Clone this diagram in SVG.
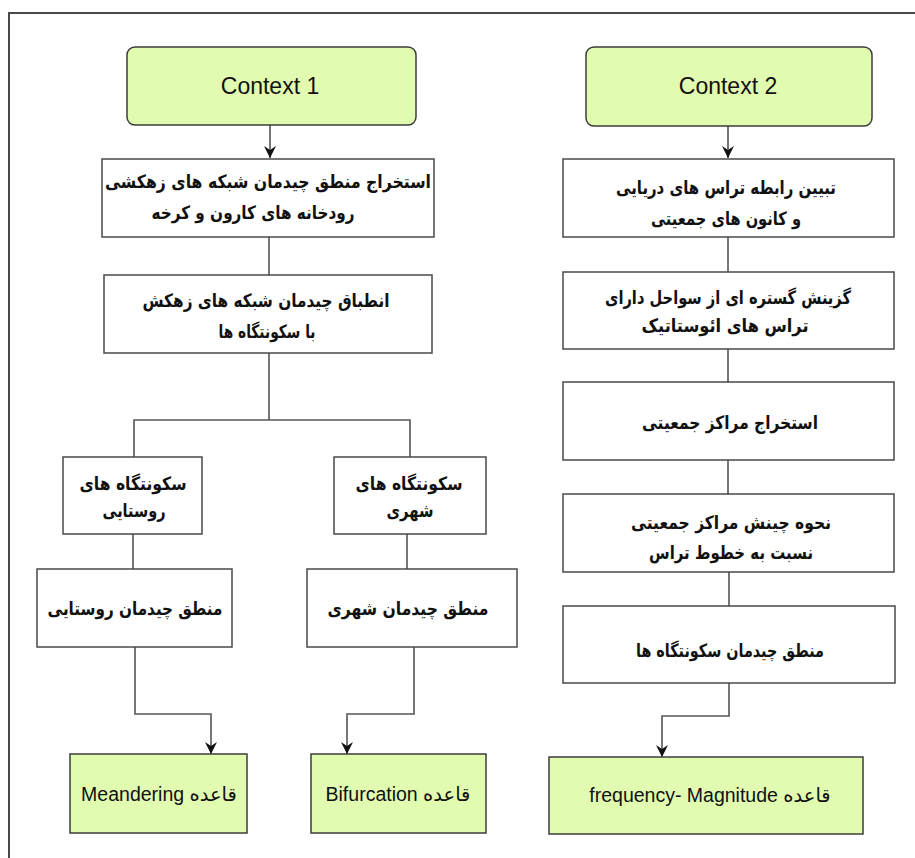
<svg xmlns="http://www.w3.org/2000/svg" width="915" height="858" viewBox="0 0 915 858">
<style>
.frame{fill:none;stroke:#4a4a4a;stroke-width:2}
.ctx{fill:#e1fbb0;stroke:#3c3c3c;stroke-width:1.5}
.box{fill:#ffffff;stroke:#4a4a4a;stroke-width:1.5}
.rule{fill:#e1fbb0;stroke:#3c3c3c;stroke-width:1.5}
.con{fill:none;stroke:#555;stroke-width:1.6}
.ct{font-family:"Liberation Sans",Arial,sans-serif;font-size:23px;fill:#111;text-anchor:middle;dominant-baseline:central}
.fa{font-family:"DejaVu Sans",sans-serif;font-size:18.5px;font-weight:bold;fill:#111;text-anchor:middle;dominant-baseline:central;direction:rtl;unicode-bidi:embed}
.rt{font-family:"Liberation Sans","DejaVu Sans",sans-serif;font-size:19.5px;fill:#111;text-anchor:middle;dominant-baseline:central;direction:rtl;unicode-bidi:embed}
</style>
<defs>
<marker id="arr" markerUnits="userSpaceOnUse" markerWidth="12" markerHeight="14" refX="12" refY="6" orient="auto" viewBox="0 0 12 12">
<path d="M0,0 L12,6 L0,12 L4,6 z" fill="#111"/>
</marker>
</defs>
<rect width="915" height="858" fill="#fff"/>
<rect class="frame" x="9" y="13" width="1000" height="1000"/>

<g id="connectors">
<line class="con" x1="270" y1="125" x2="270" y2="158" marker-end="url(#arr)"/>
<line class="con" x1="728" y1="126" x2="728" y2="158" marker-end="url(#arr)"/>
<line class="con" x1="269" y1="237" x2="269" y2="275"/>
<polyline class="con" points="269,353 269,420"/>
<polyline class="con" points="134,457 134,420 410,420 410,457"/>
<line class="con" x1="133" y1="534" x2="133" y2="569"/>
<line class="con" x1="407" y1="534" x2="407" y2="569"/>
<polyline class="con" points="135,647 135,714 211,714 211,754" marker-end="url(#arr)"/>
<polyline class="con" points="414,647 414,714 347,714 347,754" marker-end="url(#arr)"/>
<line class="con" x1="728" y1="237" x2="728" y2="272"/>
<line class="con" x1="728" y1="349" x2="728" y2="382"/>
<line class="con" x1="728" y1="460" x2="728" y2="494"/>
<line class="con" x1="729" y1="572" x2="729" y2="606"/>
<polyline class="con" points="729,683 729,716 662,716 662,757" marker-end="url(#arr)"/>
</g>

<g id="context1">
<rect class="ctx" x="127" y="47" width="289" height="78" rx="8"/>
<text class="ct" x="270" y="86">Context 1</text>
</g>
<g id="context2">
<rect class="ctx" x="586" y="47" width="286" height="79" rx="8"/>
<text class="ct" x="728" y="86">Context 2</text>
</g>

<g id="a1">
<rect class="box" x="102" y="159" width="332" height="78"/>
<text class="fa" x="268" y="181" textLength="326" lengthAdjust="spacingAndGlyphs">استخراج منطق چیدمان شبکه های زهکشی</text>
<text class="fa" x="253" y="212" textLength="203" lengthAdjust="spacingAndGlyphs">رودخانه های کارون و کرخه</text>
</g>
<g id="a2">
<rect class="box" x="104" y="275" width="328" height="78"/>
<text class="fa" x="266" y="300" textLength="247" lengthAdjust="spacingAndGlyphs">انطباق چیدمان شبکه های زهکش</text>
<text class="fa" x="267" y="331" textLength="97" lengthAdjust="spacingAndGlyphs">با سکونتگاه ها</text>
</g>
<g id="b1">
<rect class="box" x="63" y="457" width="139" height="77"/>
<text class="fa" x="133" y="483" textLength="107" lengthAdjust="spacingAndGlyphs">سکونتگاه های</text>
<text class="fa" x="134" y="510" textLength="63" lengthAdjust="spacingAndGlyphs">روستایی</text>
</g>
<g id="b2">
<rect class="box" x="334" y="457" width="152" height="77"/>
<text class="fa" x="409" y="483" textLength="107" lengthAdjust="spacingAndGlyphs">سکونتگاه های</text>
<text class="fa" x="410" y="510" textLength="47" lengthAdjust="spacingAndGlyphs">شهری</text>
</g>
<g id="c1">
<rect class="box" x="37" y="569" width="195" height="78"/>
<text class="fa" x="135" y="608" textLength="175" lengthAdjust="spacingAndGlyphs">منطق چیدمان روستایی</text>
</g>
<g id="c2">
<rect class="box" x="307" y="569" width="210" height="78"/>
<text class="fa" x="408" y="608" textLength="161" lengthAdjust="spacingAndGlyphs">منطق چیدمان شهری</text>
</g>
<g id="d1">
<rect class="rule" x="70" y="754" width="177" height="79"/>
<text class="rt" x="159" y="794">قاعده Meandering</text>
</g>
<g id="d2">
<rect class="rule" x="311" y="754" width="175" height="79"/>
<text class="rt" x="398" y="794">قاعده Bifurcation</text>
</g>

<g id="e1">
<rect class="box" x="563" y="159" width="331" height="78"/>
<text class="fa" x="726" y="187" textLength="220" lengthAdjust="spacingAndGlyphs">تبیین رابطه تراس های دریایی</text>
<text class="fa" x="726" y="218" textLength="150" lengthAdjust="spacingAndGlyphs">و کانون های جمعیتی</text>
</g>
<g id="e2">
<rect class="box" x="563" y="272" width="331" height="77"/>
<text class="fa" x="728" y="297" textLength="246" lengthAdjust="spacingAndGlyphs">گزینش گستره ای از سواحل دارای</text>
<text class="fa" x="725" y="325" textLength="167" lengthAdjust="spacingAndGlyphs">تراس های ائوستاتیک</text>
</g>
<g id="e3">
<rect class="box" x="563" y="382" width="331" height="78"/>
<text class="fa" x="730" y="422" textLength="176" lengthAdjust="spacingAndGlyphs">استخراج مراکز جمعیتی</text>
</g>
<g id="e4">
<rect class="box" x="563" y="494" width="331" height="78"/>
<text class="fa" x="731" y="522" textLength="200" lengthAdjust="spacingAndGlyphs">نحوه چینش مراکز جمعیتی</text>
<text class="fa" x="731" y="552" textLength="164" lengthAdjust="spacingAndGlyphs">نسبت به خطوط تراس</text>
</g>
<g id="e5">
<rect class="box" x="563" y="606" width="332" height="77"/>
<text class="fa" x="730" y="650" textLength="188" lengthAdjust="spacingAndGlyphs">منطق چیدمان سکونتگاه ها</text>
</g>
<g id="f">
<rect class="rule" x="549" y="757" width="314" height="77"/>
<text class="rt" x="710" y="795">قاعده frequency- Magnitude</text>
</g>
</svg>
